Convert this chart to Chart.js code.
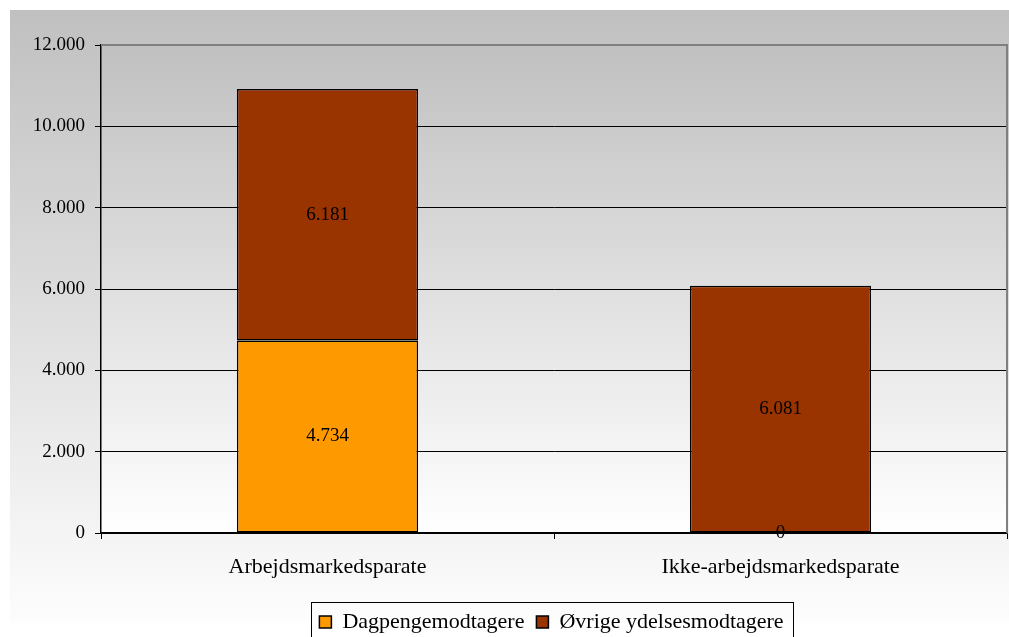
<!DOCTYPE html>
<html>
<head>
<meta charset="utf-8">
<script src="https://cdn.jsdelivr.net/npm/chart.js@4"></script>
<style>
  html, body { margin: 0; padding: 0; background: #fff; }
  #wrap { width: 1009px; height: 637px; position: relative; }
</style>
</head>
<body>
<div id="wrap"><canvas id="chart" width="1009" height="637"></canvas></div>
<script>
const categories = ['Arbejdsmarkedsparate', 'Ikke-arbejdsmarkedsparate']
const dagpengeValues = [4734, 0]
const oevrigeValues = [6181, 6081]
const seriesNames = ['Dagpengemodtagere', 'Øvrige ydelsesmodtagere']
const yMax = 12000
const yStep = 2000

function fmt(v) {
  return String(Math.round(v)).replace(/\B(?=(\d{3})+(?!\d))/g, '.')
}

const serif = "'Liberation Serif', 'Times New Roman', serif"

// gradient backgrounds behind the chart and the plot area
const backdrop = {
  id: 'backdrop',
  afterLayout(chart) {
    // legend sits centred under the plot area, not the whole canvas
    chart.legend.left += 43
    chart.legend.right += 43
  },
  beforeDraw(chart) {
    const { ctx, chartArea: a } = chart
    ctx.save()
    let g = ctx.createLinearGradient(0, 10, 0, 623)
    g.addColorStop(0, '#c0c0c0')
    g.addColorStop(1, '#fdfdfd')
    ctx.fillStyle = g
    ctx.fillRect(10, 10, 999, 613)
    g = ctx.createLinearGradient(0, a.top, 0, a.bottom)
    g.addColorStop(0, '#c0c0c0')
    g.addColorStop(1, '#ffffff')
    ctx.fillStyle = g
    ctx.fillRect(a.left, a.top, a.right - a.left, a.bottom - a.top)
    ctx.restore()
  },
  afterDraw(chart) {
    const { ctx, chartArea: a, legend } = chart
    ctx.save()
    // plot border top/right in gray
    ctx.strokeStyle = '#808080'
    ctx.lineWidth = 2
    ctx.beginPath()
    ctx.moveTo(a.left, a.top)
    ctx.lineTo(a.right, a.top)
    ctx.lineTo(a.right, a.bottom)
    ctx.stroke()
    // legend frame
    const boxes = legend.legendHitBoxes
    if (boxes && boxes.length) {
      const first = boxes[0]
      const last = boxes[boxes.length - 1]
      const left = first.left - 8
      const right = last.left + last.width + 10
      ctx.strokeStyle = '#000'
      ctx.lineWidth = 1
      ctx.strokeRect(Math.round(left) + 0.5, 602.5, Math.round(right - left), 60)
    }
    ctx.restore()
  }
}

// value labels in the middle of each segment
const segmentLabels = {
  id: 'segmentLabels',
  afterDatasetsDraw(chart) {
    const { ctx } = chart
    ctx.save()
    ctx.font = '19px ' + serif
    ctx.fillStyle = '#000'
    ctx.textAlign = 'center'
    ctx.textBaseline = 'middle'
    chart.data.datasets.forEach((ds, i) => {
      const meta = chart.getDatasetMeta(i)
      meta.data.forEach((bar, j) => {
        const { x, y, base } = bar.getProps(['x', 'y', 'base'], true)
        ctx.fillText(fmt(ds.data[j]), x, (y + base) / 2)
      })
    })
    ctx.restore()
  }
}

new Chart(document.getElementById('chart'), {
  type: 'bar',
  data: {
    labels: categories,
    datasets: [
      {
        label: seriesNames[0],
        data: dagpengeValues,
        backgroundColor: '#ff9900',
        borderColor: '#000',
        borderWidth: 1.5,
        borderSkipped: false
      },
      {
        label: seriesNames[1],
        data: oevrigeValues,
        backgroundColor: '#993300',
        borderColor: '#000',
        borderWidth: 1.5,
        borderSkipped: false
      }
    ]
  },
  options: {
    responsive: false,
    animation: false,
    barPercentage: 0.4,
    categoryPercentage: 1,
    layout: { padding: { left: 10, right: 2, top: 45, bottom: -6 } },
    plugins: {
      tooltip: { enabled: false },
      legend: {
        position: 'bottom',
        labels: {
          color: '#000',
          font: { family: serif, size: 22 },
          boxWidth: 12,
          boxHeight: 12,
          padding: 12,
          generateLabels(chart) {
            return chart.data.datasets.map((ds, i) => ({
              text: ds.label,
              fillStyle: ds.backgroundColor,
              strokeStyle: '#000',
              lineWidth: 1.5,
              datasetIndex: i,
              hidden: false
            }))
          }
        }
      }
    },
    scales: {
      x: {
        stacked: true,
        afterFit(scale) { scale.height = 66 },
        grid: {
          offset: true,
          drawOnChartArea: false,
          color: '#000',
          tickLength: 6
        },
        border: { color: '#000', width: 1.5 },
        ticks: {
          color: '#000',
          font: { family: serif, size: 22 },
          padding: 15
        }
      },
      y: {
        stacked: true,
        min: 0,
        max: yMax,
        afterFit(scale) { scale.width = 91 },
        grid: {
          color: ctx => (ctx.tick && ctx.tick.value === yMax ? 'rgba(0,0,0,0)' : '#000'),
          tickColor: '#000',
          tickLength: 6,
          lineWidth: 1
        },
        border: { color: '#000', width: 1.5 },
        ticks: {
          stepSize: yStep,
          color: '#000',
          font: { family: serif, size: 19 },
          padding: 10,
          callback: v => fmt(v)
        }
      }
    }
  },
  plugins: [backdrop, segmentLabels]
})
</script>
</body>
</html>
